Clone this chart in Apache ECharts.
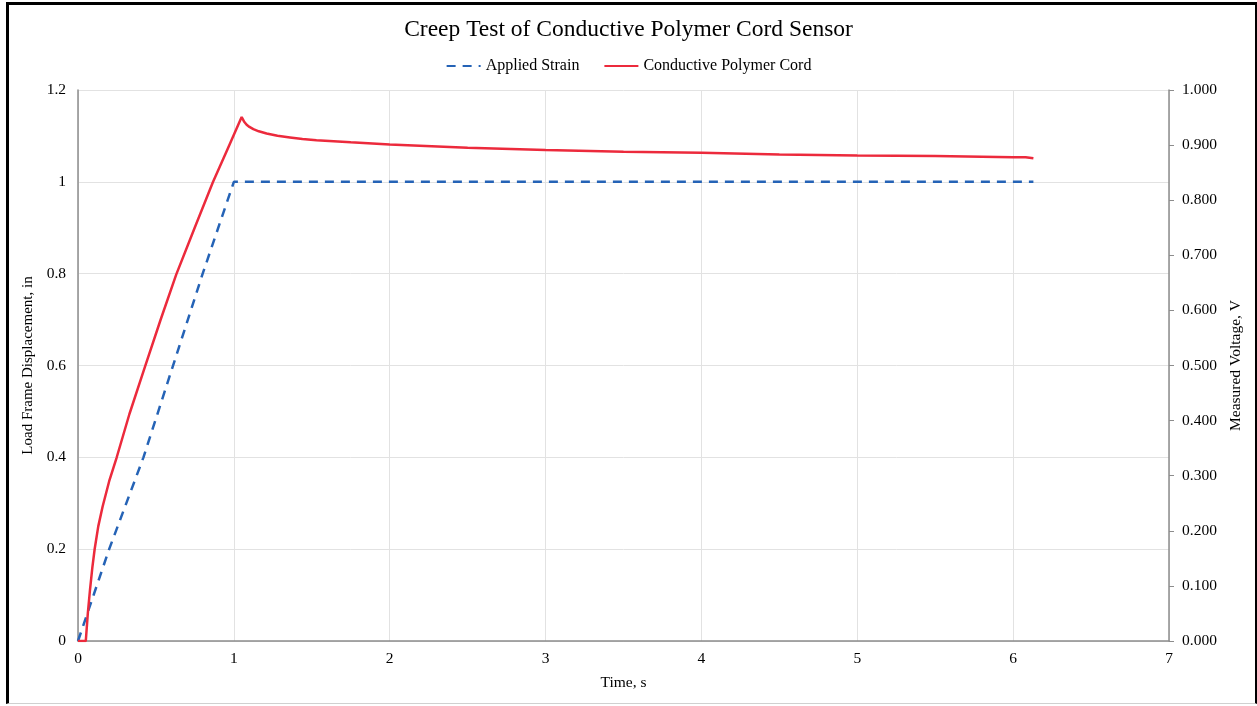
<!DOCTYPE html>
<html>
<head>
<meta charset="utf-8">
<script src="https://cdn.jsdelivr.net/npm/echarts@6/dist/echarts.min.js"></script>
<style>
html,body{margin:0;padding:0;background:#fff;}
#wrap{position:relative;width:1257px;height:706px;overflow:hidden;}
#chart{position:absolute;left:0;top:0;width:1257px;height:706px;}
#frame{position:absolute;left:6px;top:2px;width:1251px;height:702px;border-left:3px solid #000;border-top:3px solid #000;border-right:2px solid #000;border-bottom:1px solid #d0d0d0;box-sizing:border-box;pointer-events:none;}
</style>
</head>
<body>
<div id="wrap"><div id="chart"></div><div id="frame"></div></div>
<script>
// Applied strain (load frame displacement, in) vs time, s
const strainTime = [0, 0.2, 0.42, 0.8, 1.0, 6.13];
const strainValue = [0, 0.2, 0.4, 0.8, 1.0, 1.0];
// Conductive polymer cord measured voltage, V vs time, s
const cordTime = [0, 0.05, 0.063, 0.077, 0.092, 0.107, 0.13, 0.158, 0.2, 0.248, 0.33, 0.43, 0.53, 0.63, 0.75, 0.866, 0.96, 1.05,
  1.065, 1.082, 1.1, 1.125, 1.16, 1.21, 1.28, 1.36, 1.44, 1.53, 1.75, 2.0, 2.5, 3.0, 3.5, 4.0, 4.5, 5.0, 5.5, 6.0, 6.08, 6.13];
const cordValue = [0, 0, 0.05, 0.093, 0.133, 0.167, 0.208, 0.244, 0.29, 0.333, 0.412, 0.498, 0.583, 0.665, 0.751, 0.833, 0.893, 0.951,
  0.943, 0.937, 0.933, 0.929, 0.925, 0.921, 0.917, 0.914, 0.911, 0.909, 0.905, 0.901, 0.895, 0.891, 0.888, 0.886, 0.883, 0.881, 0.880, 0.878, 0.878, 0.876];
const xTicks = [0, 1, 2, 3, 4, 5, 6, 7];

const font = '"Liberation Serif", "Times New Roman", serif';
const chart = echarts.init(document.getElementById('chart'));
chart.setOption({
  animation: false,
  title: {
    text: 'Creep Test of Conductive Polymer Cord Sensor',
    left: 'center', top: 13,
    textStyle: {fontFamily: font, fontSize: 23.5, fontWeight: 'normal', color: '#000'}
  },
  legend: {
    top: 53, left: 'center', itemWidth: 34, itemHeight: 12, itemGap: 24,
    itemStyle: {opacity: 0},
    textStyle: {fontFamily: font, fontSize: 16, color: '#000'},
    data: ['Applied Strain', 'Conductive Polymer Cord']
  },
  grid: {left: 78, right: 88, top: 90, bottom: 65, containLabel: false},
  xAxis: {
    type: 'value', min: 0, max: 7, interval: 1,
    name: 'Time, s', nameLocation: 'middle', nameGap: 34,
    nameTextStyle: {fontFamily: font, fontSize: 15.5, color: '#000'},
    axisLine: {show: true, lineStyle: {color: '#8c8c8c', width: 1.5}},
    axisTick: {show: false},
    axisLabel: {fontFamily: font, fontSize: 15.5, color: '#000', margin: 10,
      formatter: v => xTicks.includes(v) ? String(v) : ''},
    splitLine: {show: true, lineStyle: {color: '#e2e2e2', width: 1}}
  },
  yAxis: [{
    type: 'value', min: 0, max: 1.2, interval: 0.2,
    name: 'Load Frame Displacement, in', nameLocation: 'middle', nameGap: 33, nameRotate: 90,
    nameTextStyle: {fontFamily: font, fontSize: 15, color: '#000'},
    axisLine: {show: true, lineStyle: {color: '#8c8c8c', width: 1.5}},
    axisTick: {show: false},
    axisLabel: {fontFamily: font, fontSize: 15.5, color: '#000', margin: 12,
      formatter: v => String(+v.toFixed(1))},
    splitLine: {show: true, lineStyle: {color: '#e2e2e2', width: 1}}
  }, {
    type: 'value', min: 0, max: 1, interval: 0.1, position: 'right',
    name: 'Measured Voltage, V', nameLocation: 'middle', nameGap: 55, nameRotate: 90,
    nameTextStyle: {fontFamily: font, fontSize: 15.5, color: '#000'},
    axisLine: {show: true, lineStyle: {color: '#8c8c8c', width: 1.5}},
    axisTick: {show: true, inside: false, length: 5, lineStyle: {color: '#8c8c8c'}},
    axisLabel: {fontFamily: font, fontSize: 15.5, color: '#000', margin: 13,
      formatter: v => v.toFixed(3)},
    splitLine: {show: false}
  }],
  series: [{
    name: 'Applied Strain', type: 'line', yAxisIndex: 0, symbol: 'none',
    data: strainTime.map((t, i) => [t, strainValue[i]]),
    lineStyle: {color: '#2563b6', width: 2.5, type: [9, 7]},
    itemStyle: {color: '#2563b6'}, z: 2
  }, {
    name: 'Conductive Polymer Cord', type: 'line', yAxisIndex: 1, symbol: 'none',
    data: cordTime.map((t, i) => [t, cordValue[i]]),
    lineStyle: {color: '#ec2a3c', width: 2.5},
    itemStyle: {color: '#ec2a3c'}, z: 3
  }]
});
</script>
</body>
</html>
